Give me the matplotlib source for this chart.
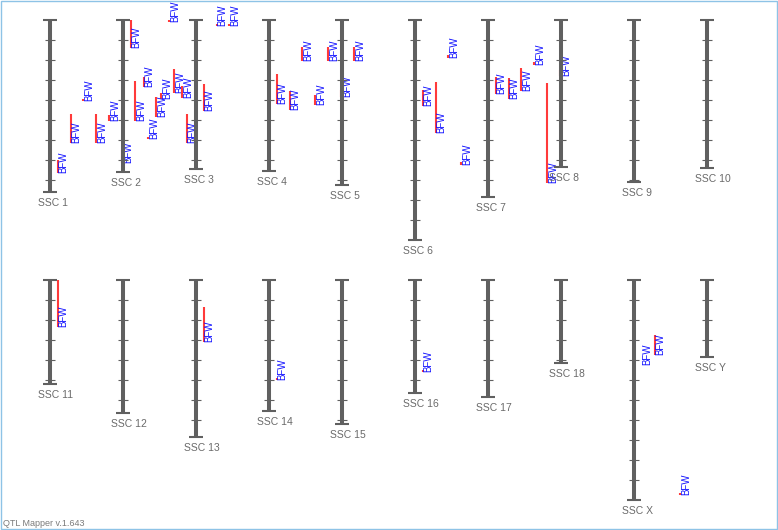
import matplotlib.pyplot as plt
from matplotlib.patches import Rectangle

plt.rcParams['font.family'] = ['Liberation Sans', 'DejaVu Sans']

# chromosomes (length in cM, one tick every 20 cM)
chrom_names = ['SSC 1', 'SSC 2', 'SSC 3', 'SSC 4', 'SSC 5', 'SSC 6', 'SSC 7',
               'SSC 8', 'SSC 9', 'SSC 10', 'SSC 11', 'SSC 12', 'SSC 13',
               'SSC 14', 'SSC 15', 'SSC 16', 'SSC 17', 'SSC 18', 'SSC X', 'SSC Y']
chrom_lengths = [172, 152, 149, 151, 165, 220, 177, 147, 162, 148,
                 104, 133, 157, 131, 144, 113, 117, 83, 220, 77]

# QTLs: chromosome index, start / end (cM), lane next to the chromosome
qtl_trait = 'BFW'
qtl_chrom = [0, 0, 0, 0, 0, 0, 0, 0, 0, 0, 0,
             1, 1, 1, 1, 1,
             2, 2, 2,
             3, 3, 3, 3, 3, 3, 3,
             5, 5, 5, 5,
             6, 6, 6, 6, 6, 6,
             10, 12, 13, 15,
             18, 18, 18]
qtl_start = [140, 94, 79, 94, 95, 130, 61, 117, 73, 49, 94,
             0, 57, 77, 0, 66,
             64, 4, 4,
             54, 71, 27, 75, 27, 70, 27,
             70, 62, 35, 142,
             57, 58, 48, 42, 63, 50,
             0, 27, 98, 90,
             85, 55, 213]
qtl_end = [153, 123, 81, 123, 101, 143, 101, 119, 79, 73, 123,
           28, 67, 97, 2, 78,
           91, 6, 6,
           84, 90, 41, 85, 41, 77, 41,
           86, 113, 38, 145,
           74, 79, 71, 45, 163, 56,
           47, 62, 100, 92,
           85, 75, 215]
qtl_lane = [0, 1, 2, 3, 4, 5, 6, 7, 8, 9, 10,
            0, 1, 2, 3, 4,
            0, 1, 2,
            0, 1, 2, 3, 4, 5, 6,
            0, 1, 2, 3,
            0, 1, 2, 3, 4, 5,
            0, 0, 0, 0,
            0, 1, 3]

chrom_color = '#606060'
qtl_color = '#ff3a3a'
text_color = '#1010ff'


def chrom_pos(i):
    # 10 chromosomes per row
    return 50 + 73 * (i % 10), 20 + 260 * (i // 10)


fig = plt.figure(figsize=(7.78, 5.30), dpi=100)
ax = fig.add_axes([0, 0, 1, 1])
ax.set_xlim(0, 778)
ax.set_ylim(530, 0)
ax.axis('off')

# QTL bars and labels (drawn under the chromosomes)
for c, s, e, lane in zip(qtl_chrom, qtl_start, qtl_end, qtl_lane):
    x0, top = chrom_pos(c)
    lx = x0 + 7.7 + 12.9 * lane
    if e > s:
        ax.plot([lx, lx], [top + s, top + e], color=qtl_color, lw=1.5,
                solid_capstyle='butt', zorder=2)
    ax.text(lx + 1.0, top + e, qtl_trait, rotation=90, ha='left', va='bottom',
            fontsize=7, color=text_color, zorder=2)

# chromosomes
for i, (name, length) in enumerate(zip(chrom_names, chrom_lengths)):
    x, top = chrom_pos(i)
    bottom = top + length
    ax.plot([x, x], [top, bottom], color=chrom_color, lw=2.9,
            solid_capstyle='butt', zorder=4)
    ax.hlines([top, bottom], x - 7, x + 7, color=chrom_color, lw=1.5, zorder=4)
    ticks = [top + t for t in range(20, length, 20)]
    ax.hlines(ticks, x - 5, x + 5, color=chrom_color, lw=0.8, zorder=4)
    ax.text(x - 12, bottom + 6, name, ha='left', va='top', fontsize=7.5,
            color='#6a6a6a', zorder=4)

ax.text(3, 526, 'QTL Mapper v.1.643', ha='left', va='baseline', fontsize=6.5,
        color='#7a7a7a')
ax.add_patch(Rectangle((0.5, 0.5), 776.5, 528.5, fill=False,
                       edgecolor='#8ec3e6', lw=1.0, zorder=5))

fig.savefig('out.png', dpi=100)
